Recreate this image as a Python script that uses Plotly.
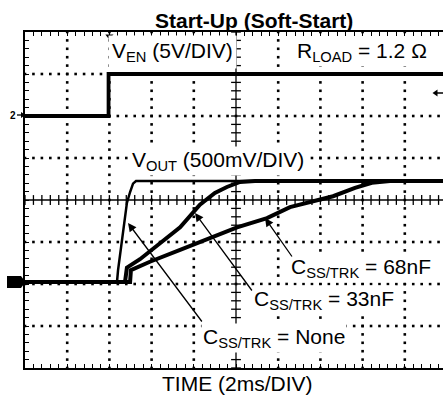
import plotly.graph_objects as go

# ---------------- data (time in ms, voltages in V) ----------------
ven_t = [0, 3.96, 3.96, 20]
ven_v = [0, 0, 5, 5]

none_t = [0, 4.36, 4.41, 4.50, 4.60, 4.74, 4.83, 4.98, 5.12, 5.26, 20]
none_v = [0, 0, 0.14, 0.32, 0.46, 0.80, 0.94, 1.07, 1.17, 1.20, 1.20]

c33_t = [0, 4.74, 4.83, 5.45, 6.40, 7.35, 8.29, 9.00, 9.57, 10.19, 10.90, 20]
c33_v = [0, 0, 0.17, 0.27, 0.46, 0.65, 0.92, 1.06, 1.13, 1.19, 1.20, 1.20]

c68_t = [0, 4.98, 5.02, 5.92, 7.35, 10.05, 11.47, 12.56, 14.60, 15.64, 16.44, 17.30, 20]
c68_v = [0, 0, 0.14, 0.24, 0.38, 0.65, 0.76, 0.89, 1.02, 1.12, 1.18, 1.20, 1.20]

# scope settings
VEN_VDIV = 5.0      # V/div
VEN_OFFSET = 2.0    # div
VOUT_VDIV = 0.5     # V/div
VOUT_OFFSET = -1.95 # div
MS_DIV = 2.0

# ---------------- geometry helpers ----------------
W, H = 443, 400
L, R, T, B = 25, 0, 32, 32
XMAX = (W - L - R) / 42.2 * MS_DIV
PX_PER_MS = (W - L - R) / XMAX
PX_PER_DIV = (H - T - B) / 8.0


def px2x(px):
    return (px - L) / PX_PER_MS


def px2paper(px):
    return (px - L) / (W - L - R)


def py2paper(py):
    return 1 - (py - T) / (H - T - B)


def py2y(py):
    return (200 - py) / PX_PER_DIV


FONT = "Liberation Sans, Arial, sans-serif"

fig = go.Figure()

# grid dots
gx, gy = [], []
n = int(XMAX / 0.4) + 1
for yl in [-3, -2, -1, 1, 2, 3]:
    for i in range(n):
        gx.append(i * 0.4)
        gy.append(yl)
for xl in [2, 4, 6, 8, 12, 14, 16, 18]:
    for j in range(41):
        gx.append(xl)
        gy.append(-4 + j * 0.2)
fig.add_trace(go.Scatter(x=gx, y=gy, mode="markers",
                         marker=dict(symbol="square", size=2.6, color="black", line=dict(width=0)),
                         hoverinfo="skip"))

# center axis ticks
tx = [i * 0.4 for i in range(n)]
fig.add_trace(go.Scatter(x=tx, y=[0] * len(tx), mode="markers",
                         marker=dict(symbol="line-ns", size=7, line=dict(width=1.3, color="black")),
                         hoverinfo="skip"))
ty = [-4 + j * 0.2 for j in range(41)]
fig.add_trace(go.Scatter(x=[10] * len(ty), y=ty, mode="markers",
                         marker=dict(symbol="line-ew", size=7, line=dict(width=1.3, color="black")),
                         hoverinfo="skip"))

# traces
fig.add_trace(go.Scatter(x=ven_t, y=[VEN_OFFSET + v / VEN_VDIV for v in ven_v], mode="lines",
                         line=dict(color="black", width=3.8)))
fig.add_trace(go.Scatter(x=none_t, y=[VOUT_OFFSET + v / VOUT_VDIV for v in none_v], mode="lines",
                         line=dict(color="black", width=2.5)))
fig.add_trace(go.Scatter(x=c33_t, y=[VOUT_OFFSET + v / VOUT_VDIV for v in c33_v], mode="lines",
                         line=dict(color="black", width=4)))
fig.add_trace(go.Scatter(x=c68_t, y=[VOUT_OFFSET + v / VOUT_VDIV for v in c68_v], mode="lines",
                         line=dict(color="black", width=4)))

# trigger marker at top
fig.add_trace(go.Scatter(x=[4.0], y=[3.9], mode="markers", cliponaxis=False,
                         marker=dict(symbol="triangle-down", size=7, color="black")))

shapes = [
    dict(type="line", xref="x", yref="y", x0=10, x1=10, y0=-4, y1=4, line=dict(color="black", width=1.3)),
    dict(type="line", xref="x", yref="y", x0=0, x1=XMAX, y0=0, y1=0, line=dict(color="black", width=1.3)),
    # channel 1 ground marker
    dict(type="path", xref="paper", yref="paper",
         path="M %f %f L %f %f L %f %f L %f %f L %f %f Z" % (
             px2paper(7), py2paper(276),
             px2paper(21), py2paper(276),
             px2paper(25.5), py2paper(282),
             px2paper(21), py2paper(288),
             px2paper(7), py2paper(288)),
         fillcolor="black", line=dict(width=0)),
    # channel 2 ground arrow
    dict(type="line", xref="paper", yref="paper",
         x0=px2paper(17), x1=px2paper(23), y0=py2paper(115), y1=py2paper(115),
         line=dict(color="black", width=1.3)),
    dict(type="path", xref="paper", yref="paper",
         path="M %f %f L %f %f L %f %f Z" % (
             px2paper(21), py2paper(112),
             px2paper(25.5), py2paper(115),
             px2paper(21), py2paper(118)),
         fillcolor="black", line=dict(width=0)),
    # trigger level arrow at right
    dict(type="line", xref="paper", yref="paper",
         x0=px2paper(434), x1=px2paper(443), y0=py2paper(93), y1=py2paper(93),
         line=dict(color="black", width=1.5)),
    dict(type="path", xref="paper", yref="paper",
         path="M %f %f L %f %f L %f %f Z" % (
             px2paper(437.5), py2paper(89.5),
             px2paper(432.5), py2paper(93),
             px2paper(437.5), py2paper(96.5)),
         fillcolor="black", line=dict(width=0)),
]

ann = []


def label(text, cx, cy, size=21, pad=1):
    ann.append(dict(text=text, x=px2x(cx), y=py2y(cy),
                    xref="x", yref="y", showarrow=False, xanchor="center", yanchor="middle",
                    font=dict(family=FONT, size=size, color="black"), bgcolor="white", borderpad=pad))


def arrow(tip, tail):
    ann.append(dict(text="", x=px2x(tip[0]), y=py2y(tip[1]), xref="x", yref="y",
                    ax=tail[0] - tip[0], ay=tail[1] - tip[1], axref="pixel", ayref="pixel",
                    showarrow=True, arrowhead=2, arrowsize=1.3, arrowwidth=1.3,
                    arrowcolor="black", standoff=0, startstandoff=0))


label("V<sub>EN</sub> (5V/DIV)", 172, 52, pad=3)
label("R<sub>LOAD</sub> = 1.2 Ω", 362, 52)
label("V<sub>OUT</sub> (500mV/DIV)", 218, 161)
label("C<sub>SS/TRK</sub> = 68nF", 361, 268)
label("C<sub>SS/TRK</sub> = 33nF", 324, 300)
label("C<sub>SS/TRK</sub> = None", 274, 338)
arrow((128, 223), (203, 323))
arrow((195, 213), (253, 292))
arrow((265, 218), (293, 258))

ann.append(dict(text="<b>Start-Up (Soft-Start)</b>", x=px2paper(254), y=1, yshift=(T - 20),
                xref="paper", yref="paper", showarrow=False,
                xanchor="center", yanchor="middle", font=dict(family=FONT, size=21, color="black")))
ann.append(dict(text="TIME (2ms/DIV)", x=px2paper(237), y=0, yshift=-(383 - (H - B)),
                xref="paper", yref="paper", showarrow=False,
                xanchor="center", yanchor="middle", font=dict(family=FONT, size=21, color="black")))
ann.append(dict(text="<b>2</b>", x=px2paper(13), y=py2paper(115), xref="paper", yref="paper",
                showarrow=False, xanchor="center", yanchor="middle",
                font=dict(family=FONT, size=10, color="black")))

fig.update_layout(
    width=W, height=H, margin=dict(l=L, r=R, t=T, b=B, autoexpand=False),
    paper_bgcolor="white", plot_bgcolor="white", showlegend=False,
    shapes=shapes, annotations=ann,
    xaxis=dict(range=[0, XMAX], showgrid=False, zeroline=False, showticklabels=False,
               showline=True, linecolor="black", linewidth=1.5, mirror="ticks",
               ticks="inside", tick0=0, dtick=0.4, ticklen=4, tickcolor="black", tickwidth=1.2),
    yaxis=dict(range=[-4, 4], showgrid=False, zeroline=False, showticklabels=False,
               showline=True, linecolor="black", linewidth=1.5, mirror=False,
               ticks="inside", tick0=0, dtick=0.2, ticklen=4, tickcolor="black", tickwidth=1.2),
)

fig.write_html("out.html", config={"displayModeBar": False},
               post_script="document.body.style.margin='0';document.body.style.overflow='hidden';")
